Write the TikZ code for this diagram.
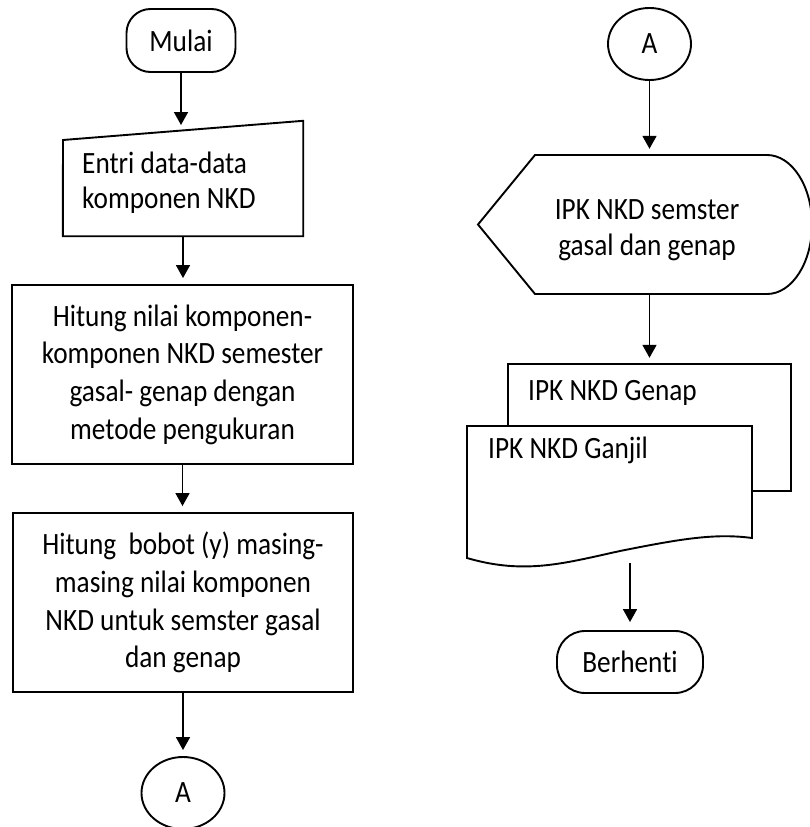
\documentclass[tikz,border=0pt]{standalone}
\usepackage{fontspec}
\setmainfont{Carlito}[FakeStretch=0.88,Ligatures=NoCommon]
\usetikzlibrary{arrows.meta,shapes.geometric,calc}

\begin{document}
\begin{tikzpicture}[x=1pt,y=-1pt,
  every node/.style={font=\fontsize{31}{37.7}\selectfont},
  outline/.style={draw=black,line width=1.9pt,line join=miter},
  frame/.style={outline,rectangle,inner sep=0pt,align=center},
  ghost/.style={rectangle,inner sep=0pt},
  term/.style={frame,rounded corners=24pt},
  conn/.style={outline,ellipse,inner sep=0pt,minimum width=83pt,minimum height=72pt},
  arr/.style={line width=1.7pt,-{Triangle[width=14pt,length=13pt]},shorten >=6pt},
  txt/.style={inner sep=0pt}
]
\useasboundingbox (0,0) rectangle (810,827);
\clip (0,0) rectangle (810,827);

% ---------- left column ----------
\node[term,minimum width=109pt,minimum height=63pt] (mulai) at (181,40.5) {Mulai};

% manual input
\node[ghost,minimum width=240pt,minimum height=115pt] (entri) at (183,178.5) {};
\draw[outline] (entri.south west) -- (63,140) -- (entri.north east) -- (entri.south east) -- cycle;
\node[txt,align=left,anchor=west,font=\fontsize{31}{35}\selectfont] (entriTxt) at (82,182.5)
  {Entri data-data\\komponen NKD};
\coordinate (entriIn) at (182,131);

\node[frame,minimum width=341pt,minimum height=179pt] (calc1) at (182.5,374.5)
  {Hitung nilai komponen-\\komponen NKD semester\\gasal- genap dengan\\metode pengukuran};

\node[frame,minimum width=340pt,minimum height=179pt] (calc2) at (183,602.5)
  {Hitung\ \ bobot (y) masing-\\masing nilai komponen\\NKD untuk semster gasal\\dan genap};

\node[conn] (circA1) at (183,793) {A};

\draw[arr] (mulai.south) -- (mulai.south |- entriIn);
\draw[arr] (entri.south) -- (entri.south |- calc1.north);
\draw[arr] (calc1.south) -- (calc1.south |- calc2.north);
\draw[arr] (calc2.south) -- (calc2.south |- circA1.north);

% ---------- right column ----------
\node[conn] (circA2) at (649.5,44) {A};

% display
\node[ghost,minimum width=334pt,minimum height=139pt] (disp) at (645,224.5) {};
\draw[outline] (535,155) -- (767,155)
  arc[start angle=-90,end angle=90,x radius=45,y radius=69.5]
  -- (535,294) -- (478,224.5) -- cycle;
\node[txt,align=center,font=\fontsize{31}{36}\selectfont] (dispTxt) at (647,230)
  {IPK NKD semster\\gasal dan genap};

% multi-document
\node[ghost,minimum width=283pt,minimum height=127pt] (docBack) at (649.5,427.5) {};
\draw[outline] (508,364) rectangle (791,491);
\draw[outline,fill=white] (467,426) -- (752,426) -- (752,538)
  .. controls (715,533) and (680,539) .. (620,551)
  .. controls (565,563) and (525,575) .. (467,558) -- cycle;
\node[ghost,minimum width=285pt,minimum height=140pt] (docFront) at (609.5,496) {};
\node[txt,anchor=west] (genapTxt) at (528,393) {IPK NKD Genap};
\node[txt,anchor=west] (ganjilTxt) at (488,450) {IPK NKD Ganjil};
\coordinate (docOut) at (630,563);

\node[term,minimum width=146pt,minimum height=62pt,rounded corners=28pt] (stop) at (630,662) {Berhenti};

\draw[arr] (circA2.south) -- (circA2.south |- disp.north);
\draw[arr] (circA2.south |- disp.south) -- (circA2.south |- docBack.north);
\draw[arr,shorten >=8pt] (docOut) -- (stop.north);
\end{tikzpicture}
\end{document}
